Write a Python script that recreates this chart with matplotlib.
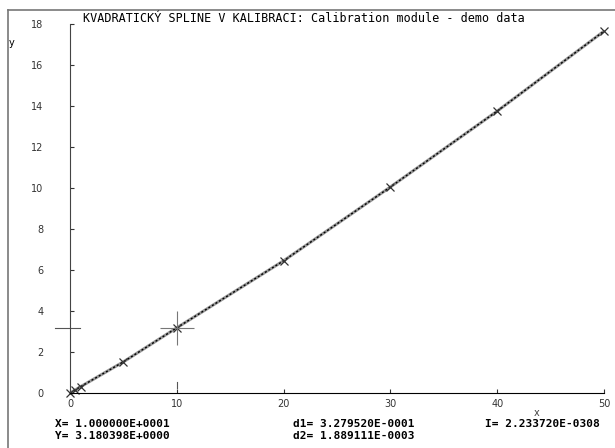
import matplotlib.pyplot as plt
from matplotlib.lines import Line2D

# calibration data
x_data = [0.0, 0.5, 1.0, 5.0, 10.0, 20.0, 30.0, 40.0, 50.0]
y_data = [0.0, 0.15, 0.31, 1.52, 3.18, 6.45, 10.05, 13.75, 17.65]

x_ticks = [0, 10, 20, 30, 40, 50]
y_ticks = [0, 2, 4, 6, 8, 10, 12, 14, 16, 18]

cursor_x = 10.0
cursor_y = 3.180398

title = "KVADRATICKÝ SPLINE V KALIBRACI: Calibration module - demo data"
info_left = ["X= 1.000000E+0001", "Y= 3.180398E+0000"]
info_mid = ["d1= 3.279520E-0001", "d2= 1.889111E-0003"]
info_right = ["I= 2.233720E-0308"]

W, H = 615, 448
fig = plt.figure(figsize=(W / 100, H / 100), dpi=100)
ax = fig.add_axes([70 / W, 1 - 393 / H, 534 / W, 369 / H])

# spline curve: grey band with black dashes on top
ax.plot(x_data, y_data, color="#999999", lw=2.2, solid_capstyle="butt")
ax.plot(x_data, y_data, color="black", lw=1.0, ls=(0, (1.5, 1.5)))
ax.plot(x_data, y_data, ls="none", marker="x", ms=5.5, mew=0.9, color="#333333", clip_on=False)

# cursor crosshair
ax.plot([cursor_x], [cursor_y], marker="+", ms=24, mew=0.8, color="#777777", clip_on=False)

ax.set_xlim(0, 50)
ax.set_ylim(0, 18)
ax.set_xticks(x_ticks)
ax.set_yticks(y_ticks)
for s in ["top", "right"]:
    ax.spines[s].set_visible(False)
ax.spines["left"].set_color("#444444")
ax.spines["bottom"].set_color("black")
ax.tick_params(axis="both", direction="in", length=3, width=0.8, labelsize=7, colors="#333333")
ax.tick_params(axis="x", pad=4.5)
ax.tick_params(axis="y", pad=19)

# cursor marks on the axes
ax.add_line(Line2D([-1.4, 0.9], [cursor_y, cursor_y], color="#555555", lw=0.8, clip_on=False))
ax.add_line(Line2D([cursor_x, cursor_x], [0.25, 0.55], color="#555555", lw=0.8, clip_on=False))

# window frame
fig.add_artist(Line2D([8 / W, 1], [1 - 10 / H, 1 - 10 / H], color="#777777", lw=1.2))
fig.add_artist(Line2D([8 / W, 8 / W], [0, 1 - 10 / H], color="#777777", lw=1.2))

fig.text(83 / W, 1 - 18 / H, title, family="DejaVu Sans Mono", fontsize=8.5, va="center", ha="left")
fig.text(12 / W, 1 - 43 / H, "y", fontsize=7, va="center", ha="center")
fig.text(537 / W, 1 - 413 / H, "x", fontsize=7, va="center", ha="center", color="#444444")

mono = dict(family="DejaVu Sans Mono", fontsize=8, weight="bold", va="center")
for i, t in enumerate(info_left):
    fig.text(55 / W, 1 - (424 + 12 * i) / H, t, **mono)
for i, t in enumerate(info_mid):
    fig.text(293 / W, 1 - (424 + 12 * i) / H, t, **mono)
for i, t in enumerate(info_right):
    fig.text(485 / W, 1 - (424 + 12 * i) / H, t, **mono)

fig.savefig("out.png", dpi=100)
